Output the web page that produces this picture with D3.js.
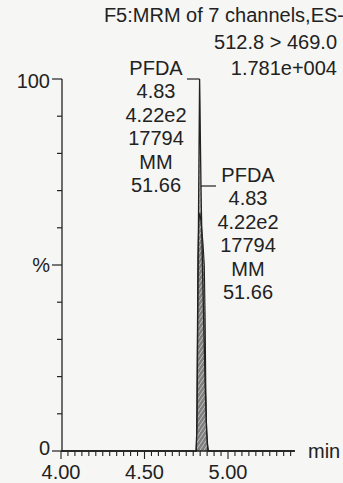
<!DOCTYPE html>
<html>
<head>
<meta charset="utf-8">
<script src="https://cdn.jsdelivr.net/npm/d3@7"></script>
<style>
  html, body { margin: 0; padding: 0; background: #f6f6f4; }
  svg { display: block; }
  text { font-family: "Liberation Sans", Arial, sans-serif; fill: #222; }
</style>
</head>
<body>
<svg id="chart" width="343" height="483"></svg>
<script>
// ---- data ----
const headerLines = ["F5:MRM of 7 channels,ES-", "512.8 > 469.0", "1.781e+004"];
const peakLabelLines = ["PFDA", "4.83", "4.22e2", "17794", "MM", "51.66"];
const peakTime = 4.83;
const xDomain = [4.0, 5.4];
const xTickLabels = [4.00, 4.50, 5.00];
const xMinorStep = 0.5 / 12;
const yTickValues = [0, 10, 20, 30, 40, 50, 60, 70, 80, 90, 100];
const yTickLabels = [{v: 100, t: "100"}, {v: 50, t: "%"}, {v: 0, t: "0"}];
// trace A: sharp spike (time min, intensity %)
const traceATime = [4.00, 4.808, 4.814, 4.818, 4.822, 4.826, 4.829, 4.830, 4.832, 4.835, 4.840, 4.847, 4.855, 4.863, 4.870, 4.877, 4.883, 5.40];
const traceAVal  = [0,    0,     6,     30,    55,    78,    95,    100,   94,    82,    66,    50,    34,    18,    8,     2,     0,     0];
// trace B: broader co-plotted peak
const traceBTime = [4.00, 4.811, 4.814, 4.817, 4.820, 4.825, 4.832, 4.840, 4.850, 4.858, 4.863, 4.867, 4.872, 4.879, 5.40];
const traceBVal  = [0,    0,     12,    34,    52,    62,    64,    61,    56,    50,    36,    18,    5,     0,     0];

// ---- layout ----
const svg = d3.select("#chart");
const x = d3.scaleLinear().domain(xDomain).range([61, 61 + 1.4 * 167]);
const y = d3.scaleLinear().domain([0, 100]).range([451, 79]);
const ink = "#222";

// peaks
const area = d3.area().x(d => x(d[0])).y0(y(0)).y1(d => y(d[1]));
const line = d3.line().x(d => x(d[0])).y(d => y(d[1]));
const A = traceATime.map((t, i) => [t, traceAVal[i]]);
const B = traceBTime.map((t, i) => [t, traceBVal[i]]);

const defs = svg.append("defs");
const pat = defs.append("pattern").attr("id", "hatch").attr("patternUnits", "userSpaceOnUse")
  .attr("width", 4).attr("height", 6);
pat.append("rect").attr("width", 4).attr("height", 6).attr("fill", "#808080");
pat.append("path").attr("d", "M0,6 L4,0").attr("stroke", "#d0d0d0").attr("stroke-width", 0.8);

svg.append("path").datum(B).attr("d", area).attr("fill", "url(#hatch)");
svg.append("path").datum(A).attr("d", area).attr("fill", "url(#hatch)").attr("opacity", 0.6);
svg.append("path").datum(B).attr("d", line).attr("fill", "none").attr("stroke", ink).attr("stroke-width", 1.1);
svg.append("path").datum(A).attr("d", line).attr("fill", "none").attr("stroke", ink).attr("stroke-width", 1.3);

// y axis
svg.append("line").attr("x1", 62).attr("x2", 62).attr("y1", y(100)).attr("y2", y(0))
  .attr("stroke", ink).attr("stroke-width", 1.3);
svg.selectAll(".ytick").data(yTickValues).enter().append("line")
  .attr("x1", d => (d === 100 || d === 50 || d === 0) ? 52 : 57).attr("x2", 62)
  .attr("y1", d => y(d)).attr("y2", d => y(d))
  .attr("stroke", ink).attr("stroke-width", 1.2);
svg.selectAll(".ylab").data(yTickLabels).enter().append("text")
  .attr("x", 50).attr("y", d => y(d.v) + (d.v === 100 ? 9 : (d.v === 0 ? 4 : 7)))
  .attr("text-anchor", "end").attr("font-size", 20).text(d => d.t);

// x axis
svg.append("line").attr("x1", 61).attr("x2", x(xDomain[1])).attr("y1", y(0)).attr("y2", y(0))
  .attr("stroke", ink).attr("stroke-width", 1.3);
const minor = d3.range(xDomain[0], xDomain[1] - 0.01, xMinorStep);
svg.selectAll(".xminor").data(minor).enter().append("line")
  .attr("x1", d => x(d)).attr("x2", d => x(d))
  .attr("y1", y(0)).attr("y2", d => y(0) + (Math.abs(((d - 4) / 0.5) - Math.round((d - 4) / 0.5)) < 0.01 ? 8 : 5))
  .attr("stroke", ink).attr("stroke-width", 1.1);
svg.selectAll(".xlab").data(xTickLabels).enter().append("text")
  .attr("x", d => x(d)).attr("y", 479).attr("text-anchor", "middle").attr("font-size", 20)
  .text(d => d.toFixed(2));
svg.append("text").attr("x", 308).attr("y", 458).attr("font-size", 20).text("min");

// header
const headerX = [344, 337, 337];
svg.selectAll(".hdr").data(headerLines).enter().append("text")
  .attr("x", (d, i) => headerX[i]).attr("y", (d, i) => 22 + i * 26.5)
  .attr("text-anchor", "end").attr("font-size", 20).text(d => d);

// peak labels
function peakLabel(cx, firstCenter, leaderY, lx1, lx2) {
  svg.selectAll(null).data(peakLabelLines).enter().append("text")
    .attr("x", cx).attr("y", (d, i) => firstCenter + 7 + i * 23.4)
    .attr("text-anchor", "middle").attr("font-size", 20).text(d => d);
  svg.append("line").attr("x1", lx1).attr("x2", lx2).attr("y1", leaderY).attr("y2", leaderY)
    .attr("stroke", ink).attr("stroke-width", 1.2);
}
peakLabel(156, 68, y(100), 187, x(peakTime));
peakLabel(248, 175, 186, x(peakTime) + 1, 216);
</script>
</body>
</html>
